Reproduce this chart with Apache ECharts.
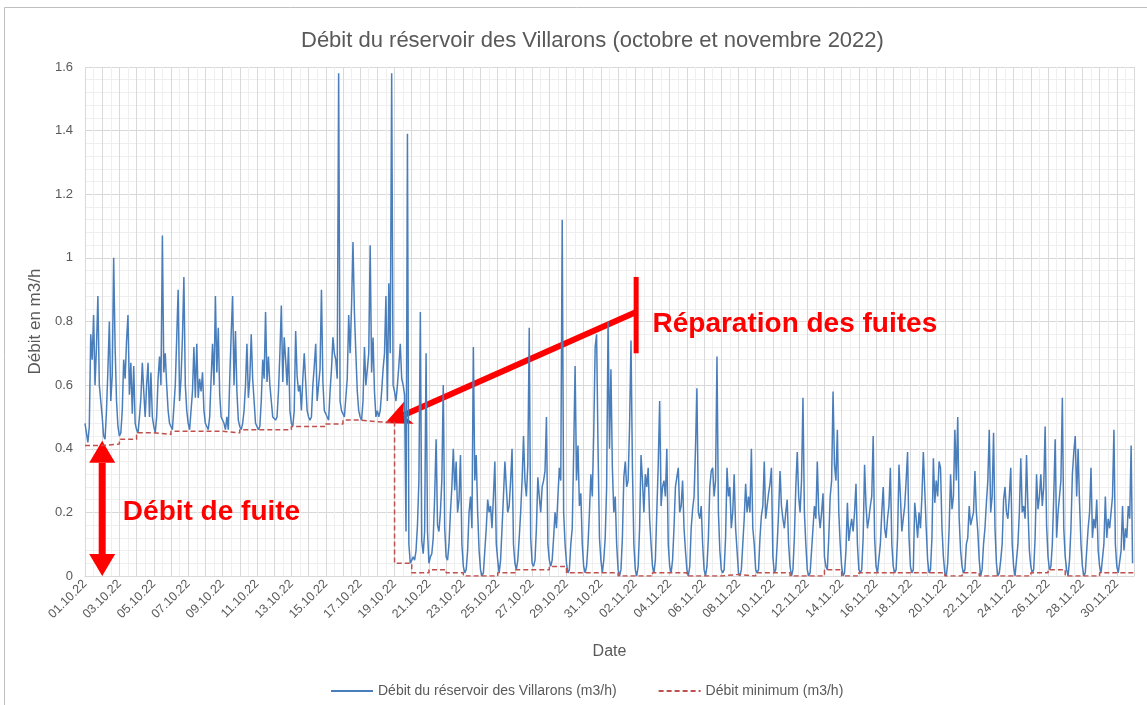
<!DOCTYPE html>
<html><head><meta charset="utf-8">
<script src="https://cdn.jsdelivr.net/npm/echarts@6.0.0/dist/echarts.min.js"></script>
<style>html,body{margin:0;padding:0;background:#fff}#c{width:1147px;height:705px}</style>
</head><body><div id="c"></div>
<script>
// ---------- DATA ----------
const chartTitle = 'Débit du réservoir des Villarons (octobre et novembre 2022)';
const seriesNames = ['Débit du réservoir des Villarons (m3/h)', 'Débit minimum (m3/h)'];
// tick labels (every second day, day index 0 = 01.10.22)
const dateLabels = ['01.10.22','03.10.22','05.10.22','07.10.22','09.10.22','11.10.22','13.10.22','15.10.22',
  '17.10.22','19.10.22','21.10.22','23.10.22','25.10.22','27.10.22','29.10.22','31.10.22','02.11.22',
  '04.11.22','06.11.22','08.11.22','10.11.22','12.11.22','14.11.22','16.11.22','18.11.22','20.11.22',
  '22.11.22','24.11.22','26.11.22','28.11.22','30.11.22'];
const samplesPerDay = 12; // one value every 2 hours
// flow (m3/h), 12 values per day
const flowOct01_10 = [
  0.48,0.45,0.42,0.47,0.76,0.68,0.82,0.60,0.72,0.88,0.60,0.55,
  0.50,0.44,0.43,0.52,0.65,0.80,0.55,0.63,1.00,0.72,0.55,0.47,
  0.44,0.45,0.52,0.68,0.62,0.74,0.82,0.57,0.67,0.51,0.66,0.48,
  0.46,0.45,0.50,0.56,0.67,0.58,0.50,0.60,0.67,0.50,0.64,0.50,
  0.47,0.45,0.50,0.62,0.69,0.60,1.07,0.64,0.70,0.60,0.52,0.48,
  0.47,0.46,0.46,0.60,0.75,0.90,0.55,0.62,0.75,0.94,0.60,0.52,
  0.48,0.46,0.46,0.58,0.72,0.56,0.73,0.56,0.62,0.58,0.64,0.52,
  0.48,0.47,0.46,0.50,0.62,0.73,0.60,0.88,0.64,0.78,0.57,0.50,
  0.50,0.48,0.46,0.50,0.46,0.62,0.76,0.88,0.60,0.77,0.58,0.49,
  0.47,0.46,0.48,0.52,0.60,0.73,0.56,0.62,0.76,0.62,0.55,0.48];
const flowOct11_20 = [
  0.48,0.46,0.47,0.55,0.68,0.62,0.83,0.61,0.69,0.60,0.55,0.50,
  0.50,0.49,0.50,0.58,0.70,0.85,0.61,0.75,0.68,0.60,0.72,0.52,
  0.48,0.47,0.52,0.77,0.63,0.58,0.60,0.52,0.62,0.70,0.61,0.52,
  0.50,0.49,0.50,0.60,0.66,0.73,0.55,0.60,0.65,0.90,0.61,0.52,
  0.51,0.50,0.49,0.58,0.65,0.75,0.70,0.68,0.62,1.58,0.55,0.52,
  0.52,0.50,0.50,0.62,0.82,0.70,0.85,1.05,0.83,0.70,0.58,0.52,
  0.50,0.49,0.55,0.72,0.60,0.65,0.70,1.04,0.64,0.75,0.58,0.50,
  0.52,0.50,0.52,0.58,0.65,0.70,0.88,0.55,0.92,0.70,1.58,0.60,
  0.58,0.55,0.60,0.66,0.73,0.62,0.60,0.57,0.14,1.39,0.10,0.04,
  0.05,0.06,0.05,0.08,0.16,0.30,0.83,0.11,0.07,0.14,0.70,0.14];
const flowOct21_31 = [
  0.04,0.06,0.07,0.12,0.25,0.43,0.16,0.14,0.20,0.30,0.60,0.15,
  0.06,0.05,0.10,0.20,0.28,0.40,0.27,0.36,0.20,0.24,0.38,0.10,
  0.03,0.01,0.02,0.08,0.20,0.25,0.15,0.72,0.30,0.38,0.20,0.08,
  0.02,0.00,0.01,0.08,0.15,0.24,0.20,0.22,0.15,0.25,0.36,0.10,
  0.05,0.01,0.05,0.15,0.25,0.36,0.28,0.20,0.22,0.30,0.40,0.10,
  0.04,0.02,0.05,0.12,0.20,0.30,0.44,0.30,0.25,0.35,0.78,0.12,
  0.04,0.03,0.05,0.15,0.31,0.25,0.20,0.28,0.30,0.33,0.50,0.10,
  0.05,0.03,0.05,0.12,0.20,0.15,0.25,0.34,0.30,1.12,0.20,0.10,
  0.04,0.01,0.02,0.10,0.15,0.39,0.66,0.30,0.41,0.22,0.26,0.10,
  0.03,0.01,0.03,0.10,0.20,0.32,0.25,0.45,0.72,0.76,0.40,0.12,
  0.05,0.01,0.05,0.12,0.28,0.80,0.40,0.65,0.34,0.20,0.25,0.10];
const flowNov01_10 = [
  0.02,0.00,0.02,0.12,0.31,0.36,0.28,0.30,0.47,0.74,0.34,0.10,
  0.02,0.00,0.03,0.15,0.38,0.30,0.20,0.32,0.28,0.34,0.18,0.10,
  0.03,0.01,0.05,0.20,0.35,0.55,0.22,0.28,0.30,0.25,0.40,0.10,
  0.03,0.01,0.05,0.15,0.28,0.31,0.34,0.20,0.22,0.30,0.15,0.08,
  0.02,0.00,0.03,0.15,0.21,0.25,0.40,0.59,0.20,0.18,0.22,0.10,
  0.02,0.00,0.03,0.12,0.28,0.33,0.34,0.25,0.30,0.69,0.20,0.08,
  0.02,0.01,0.02,0.12,0.34,0.25,0.28,0.15,0.20,0.32,0.15,0.08,
  0.01,0.00,0.02,0.10,0.18,0.29,0.20,0.25,0.20,0.40,0.15,0.10,
  0.02,0.01,0.02,0.12,0.19,0.22,0.36,0.18,0.22,0.26,0.29,0.34,
  0.06,0.01,0.02,0.10,0.20,0.33,0.22,0.18,0.15,0.20,0.24,0.10];
const flowNov11_20 = [
  0.03,0.00,0.02,0.12,0.28,0.39,0.25,0.20,0.30,0.56,0.20,0.10,
  0.02,0.00,0.01,0.08,0.15,0.22,0.18,0.36,0.20,0.15,0.20,0.26,
  0.06,0.03,0.02,0.12,0.25,0.30,0.58,0.35,0.30,0.46,0.20,0.10,
  0.03,0.00,0.01,0.08,0.23,0.11,0.15,0.18,0.14,0.20,0.29,0.10,
  0.02,0.01,0.02,0.12,0.35,0.22,0.15,0.18,0.22,0.25,0.44,0.12,
  0.03,0.01,0.01,0.10,0.20,0.28,0.15,0.12,0.18,0.22,0.34,0.10,
  0.03,0.01,0.02,0.12,0.35,0.25,0.14,0.18,0.22,0.30,0.39,0.12,
  0.03,0.01,0.02,0.23,0.18,0.12,0.20,0.15,0.25,0.39,0.39,0.15,
  0.05,0.01,0.02,0.12,0.37,0.23,0.30,0.25,0.36,0.34,0.15,0.06,
  0.01,0.00,0.04,0.15,0.32,0.21,0.25,0.46,0.30,0.50,0.18,0.08];
const flowNov21_30 = [
  0.03,0.01,0.02,0.10,0.12,0.22,0.16,0.18,0.20,0.33,0.20,0.14,
  0.05,0.00,0.02,0.10,0.15,0.23,0.30,0.46,0.20,0.25,0.45,0.15,
  0.04,0.00,0.01,0.05,0.10,0.24,0.28,0.20,0.18,0.25,0.34,0.10,
  0.03,0.00,0.00,0.10,0.20,0.37,0.20,0.22,0.18,0.38,0.21,0.08,
  0.03,0.01,0.02,0.12,0.32,0.21,0.25,0.32,0.22,0.28,0.47,0.16,
  0.06,0.02,0.03,0.10,0.25,0.43,0.12,0.20,0.25,0.30,0.56,0.15,
  0.06,0.02,0.00,0.05,0.15,0.32,0.39,0.44,0.25,0.40,0.23,0.10,
  0.03,0.00,0.01,0.08,0.15,0.20,0.34,0.12,0.18,0.15,0.24,0.08,
  0.03,0.01,0.01,0.10,0.25,0.12,0.18,0.15,0.20,0.25,0.46,0.10,
  0.03,0.01,0.01,0.08,0.22,0.08,0.15,0.12,0.22,0.18,0.41,0.04];
// daily minimum (m3/h)
const minOctober = [0.41,0.415,0.43,0.45,0.445,0.455,0.455,0.455,0.45,0.46,0.46,0.46,0.47,0.47,0.478,0.49,0.485,0.483,
  0.04,0.01,0.02,0.01,0.0,0.0,0.01,0.02,0.02,0.03,0.01,0.01,0.01];
const minNovember = [0.0,0.0,0.01,0.01,0.0,0.0,0.005,0.0,0.01,0.01,0.0,0.0,0.02,0.0,0.01,0.01,0.01,0.01,0.01,0.0,
  0.01,0.0,0.0,0.0,0.01,0.02,0.0,0.0,0.01,0.01];
// annotation anchors (axis units: day index, m3/h)
const leakArrowDay = 1.0, leakTop = 0.425;
const leakTextAnchor = [2.2, 0.2];
const repairDay = 32.05, repairBarLow = 0.70, repairBarHigh = 0.94, repairArrowFrom = 0.83;
const repairArrowTip = [17.45, 0.48];
const repairTextAnchor = [33.0, 0.79];

// ---------- CHART ----------
const flow = [].concat(flowOct01_10, flowOct11_20, flowOct21_31, flowNov01_10, flowNov11_20, flowNov21_30);
const flowData = flow.map((v, i) => [i / samplesPerDay, v]);
const minAll = minOctober.concat(minNovember);
const minData = minAll.map((v, i) => [i, v]);
minData.push([minAll.length, minAll[minAll.length - 1]]);

const FONT = 'Liberation Sans';
const GREY = '#595959';
const chart = echarts.init(document.getElementById('c'));
chart.setOption({
  animation: false,
  textStyle: {fontFamily: FONT},
  title: {text: chartTitle, left: 296, top: 25,
    textStyle: {fontSize: 22, fontWeight: 'normal', color: GREY, fontFamily: FONT}},
  grid: {left: 85, right: 13, top: 67, bottom: 129},
  legend: {bottom: 2, left: 325, itemWidth: 42, itemHeight: 14, itemGap: 41,
    itemStyle: {opacity: 0},
    textStyle: {color: GREY, fontSize: 14, fontFamily: FONT},
    data: [{name: seriesNames[0]}, {name: seriesNames[1]}]},
  xAxis: {type: 'value', min: 0, max: 61, interval: 1,
    name: 'Date', nameLocation: 'middle', nameGap: 68,
    nameTextStyle: {color: GREY, fontSize: 16, fontFamily: FONT},
    axisLine: {lineStyle: {color: '#d9d9d9'}}, axisTick: {show: false},
    axisLabel: {rotate: 45, color: GREY, fontSize: 12.5, margin: 6, fontFamily: FONT,
      formatter: v => (v % 2 === 0 && v / 2 < dateLabels.length) ? dateLabels[v / 2] : ''},
    splitLine: {show: true, lineStyle: {color: '#d9d9d9'}},
    minorTick: {show: false, splitNumber: 2},
    minorSplitLine: {show: true, lineStyle: {color: '#efefef'}}},
  yAxis: {type: 'value', min: 0, max: 1.6, interval: 0.2,
    name: 'Débit en m3/h', nameLocation: 'middle', nameGap: 33,
    nameTextStyle: {color: GREY, fontSize: 17, fontFamily: FONT},
    axisLine: {show: false}, axisTick: {show: false},
    axisLabel: {color: GREY, fontSize: 13, margin: 12, fontFamily: FONT},
    splitLine: {lineStyle: {color: '#d9d9d9'}},
    minorTick: {show: false, splitNumber: 5},
    minorSplitLine: {show: true, lineStyle: {color: '#efefef'}}},
  series: [
    {name: seriesNames[0], type: 'line', data: flowData, symbol: 'none', showSymbol: false,
      lineStyle: {color: '#4a7ebb', width: 1.5}, itemStyle: {color: '#4a7ebb'}, z: 2},
    {name: seriesNames[1], type: 'line', data: minData, step: 'end', symbol: 'none', showSymbol: false,
      lineStyle: {color: '#c0504d', width: 1.5, type: [5, 3]}, itemStyle: {color: '#c0504d'}, z: 3}
  ]
});

// ---------- ANNOTATIONS (placed through the axes) ----------
const P = (d, v) => chart.convertToPixel({gridIndex: 0}, [d, v]);
function head(tip, from, len, halfW, notch) {
  const dx = tip[0] - from[0], dy = tip[1] - from[1], L = Math.hypot(dx, dy);
  const ux = dx / L, uy = dy / L;
  const bx = tip[0] - ux * len, by = tip[1] - uy * len;
  const pts = [[tip[0], tip[1]], [bx - uy * halfW, by + ux * halfW]];
  if (notch) pts.push([bx + ux * notch, by + uy * notch]);
  pts.push([bx + uy * halfW, by - ux * halfW]);
  return {pts, base: [bx + ux * (notch || 0), by + uy * (notch || 0)]};
}
const RED = '#ff0000';
const g = [];
// outer frame
g.push({type: 'rect', shape: {x: 4.5, y: 7.5, width: 1160, height: 720}, style: {fill: 'none', stroke: '#bfbfbf', lineWidth: 1}, silent: true});
// leak double arrow
const lb = P(leakArrowDay, 0), lt = P(leakArrowDay, leakTop);
const hTop = head(lt, lb, 22, 13), hBot = head(lb, lt, 22, 13);
g.push({type: 'line', shape: {x1: lt[0], y1: hTop.base[1], x2: lb[0], y2: hBot.base[1]}, style: {stroke: RED, lineWidth: 7}});
g.push({type: 'polygon', shape: {points: hTop.pts}, style: {fill: RED}});
g.push({type: 'polygon', shape: {points: hBot.pts}, style: {fill: RED}});
const lp = P(leakTextAnchor[0], leakTextAnchor[1]);
g.push({type: 'text', x: lp[0], y: lp[1], style: {text: 'Débit de fuite', fill: RED, font: 'bold 28px "Liberation Sans"', textVerticalAlign: 'middle', textAlign: 'left'}});
// repair bar + arrow
const rb1 = P(repairDay, repairBarLow), rb2 = P(repairDay, repairBarHigh);
g.push({type: 'line', shape: {x1: rb1[0], y1: rb1[1], x2: rb2[0], y2: rb2[1]}, style: {stroke: RED, lineWidth: 5}});
const af = P(repairDay, repairArrowFrom), at = P(repairArrowTip[0], repairArrowTip[1]);
const ah = head(at, af, 26, 12, 6);
g.push({type: 'line', shape: {x1: af[0], y1: af[1], x2: ah.base[0], y2: ah.base[1]}, style: {stroke: RED, lineWidth: 6}});
g.push({type: 'polygon', shape: {points: ah.pts}, style: {fill: RED}});
const rp = P(repairTextAnchor[0], repairTextAnchor[1]);
g.push({type: 'text', x: rp[0], y: rp[1], style: {text: 'Réparation des fuites', fill: RED, font: 'bold 28px "Liberation Sans"', textVerticalAlign: 'middle', textAlign: 'left'}});
chart.setOption({graphic: {elements: g}});
</script></body></html>
